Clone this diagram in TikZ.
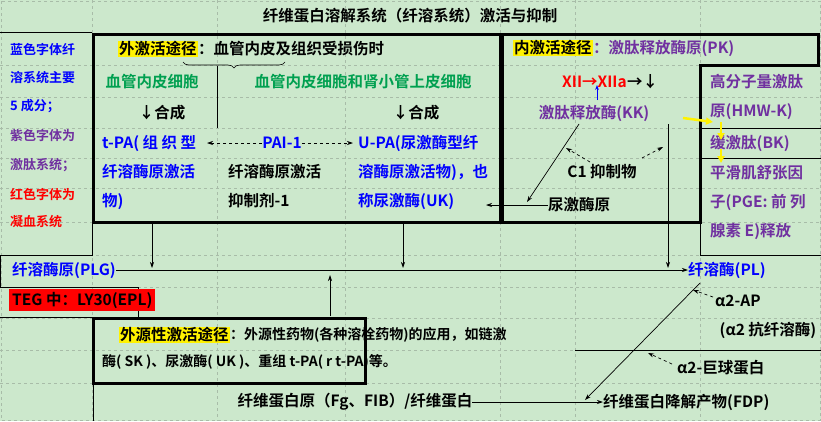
\documentclass[tikz,border=0pt]{standalone}
\usepackage{fontspec}
\setmainfont{Noto Sans CJK SC}[BoldFont={* Bold}]
\usetikzlibrary{arrows.meta,decorations.pathreplacing}
\definecolor{bg}{HTML}{CCE8CC}
\definecolor{grn}{HTML}{00A050}
\definecolor{blu}{HTML}{0000FF}
\definecolor{pur}{HTML}{7030A0}
\definecolor{grd}{HTML}{A8BCA8}
\begin{document}
\begin{tikzpicture}[x=1pt,y=-1pt,
 t/.style={font=\bfseries\fontsize{15.5}{17}\selectfont,inner sep=0pt},
 tl/.style={t,anchor=west},
 sm/.style={font=\bfseries\fontsize{13}{14}\selectfont,inner sep=0pt,anchor=west},
 thick box/.style={line width=3pt},
 thin/.style={line width=0.6pt},
 arr/.style={-{Stealth[length=6pt,width=4pt]},line width=0.7pt},
 darr/.style={arr,dashed},
 yarr/.style={-{Triangle[length=7pt,width=7pt]},line width=2.5pt,yellow}]
\fill[bg] (0,0) rectangle (821,421);
\useasboundingbox (0,0) rectangle (821,421);
% grid
\foreach \y in {65,97,128,158,188,222,255,287,318,350,383} \draw[grd,dashed,thin] (0,\y)--(821,\y);
\foreach \x in {92,217,345,500,575,700} \draw[grd,dashed,thin] (\x,0)--(\x,421);
\draw[grd,dashed,thin] (1,1) rectangle (820,420);
% title
\node[t] (title) at (410,16) {纤维蛋白溶解系统（纤溶系统）激活与抑制};
\draw[thin] (0,32)--(92,32);
% left column
\node[sm,blu] (l1) at (10,50) {蓝色字体纤};
\node[sm,blu] (l2) at (10,78) {溶系统主要};
\node[sm,blu] (l3) at (10,106) {5 成分；};
\node[sm,pur] (l4) at (10,136) {紫色字体为};
\node[sm,pur] (l5) at (10,165) {激肽系统；};
\node[sm,red] (l6) at (10,194) {红色字体为};
\node[sm,red] (l7) at (10,222) {凝血系统};
% outer activation box
\draw[thick box] (93,34) rectangle (500,222);
\node[tl,fill=yellow,inner sep=1pt] (ext) at (118,49) {外激活途径};
\node[tl] (extb) at (ext.east) {：血管内皮及组织受损伤时};
\draw[thin,decorate,decoration={brace,mirror,amplitude=6pt}] (183,62)--(285,62);
\draw[thin] (217,66)--(217,128);
\node[t,grn] (ec1) at (152,82) {血管内皮细胞};
\node[t,grn] (ec2) at (363,82) {血管内皮细胞和肾小管上皮细胞};
\node[t] (s1) at (162,113) {↓合成};
\node[t] (s2) at (416,113) {↓合成};
\node[tl,blu] (tpa1) at (102,143) {t-PA( 组 织 型};
\node[tl,blu] (tpa2) at (102,172) {纤溶酶原激活};
\node[tl,blu] (tpa3) at (102,201) {物)};
\node[t,blu] (pai) at (282,143) {PAI-1};
\node[tl] (pai2) at (228,172) {纤溶酶原激活};
\node[tl] (pai3) at (228,201) {抑制剂-1};
\node[tl,blu] (upa1) at (358,143) {U-PA(尿激酶型纤};
\node[tl,blu] (upa2) at (358,172) {溶酶原激活物)，也};
\node[tl,blu] (upa3) at (358,201) {称尿激酶(UK)};
\draw[darr] (pai.west)--(207,143);
\draw[darr] (pai.east)--(353,143);
% inner activation box
\draw[thick box] (502,222)--(502,34)--(818,34)--(818,65)--(700,65)--(700,222)--cycle;
\node[tl,fill=yellow,inner sep=1pt] (int) at (513,48) {内激活途径};
\node[tl,pur] (intb) at (int.east) {：激肽释放酶原(PK)};
\node[tl,red] (xii) at (562,82) {XII→XIIa};
\node[tl] (xiib) at (xii.east) {→↓};
\node[t,pur] (kk) at (594,113) {激肽释放酶(KK)};
\draw[-{Stealth[length=5pt]},blu,line width=0.8pt] (597,100)--(597,85);
\node[t] (c1) at (602,172) {C1 抑制物};
\node[tl] (uk0) at (548,205) {尿激酶原};
\draw[arr] (579,124)--(527,202);
\draw[darr] (590,162)--(566,148);
\draw[darr] (642,158)--(663,147);
\draw[arr] (uk0.west)--(486,205);
% right column
\draw[thin] (700,128)--(821,128) (700,158)--(821,158) (700,222)--(700,255)--(713,255);
\node[tl,pur] (hm1) at (710,82) {高分子量激肽};
\node[tl,pur] (hm2) at (710,112) {原(HMW-K)};
\node[tl,pur] (bk) at (710,143) {缓激肽(BK)};
\node[tl,pur] (pg1) at (710,173) {平滑肌舒张因};
\node[tl,pur] (pg2) at (710,202) {子(PGE: 前 列};
\node[tl,pur] (pg3) at (710,231) {腺素 E)释放};
\draw[yarr] (683,118)--(713,122);
\draw[yarr] (721,122)--(721,140);
\draw[yarr] (721,149)--(721,163);
% PLG row
\draw[thin] (0,255)--(92,255)--(92,222) (0,255)--(0,287);
\draw[thin] (713,255)--(821,255);
\node[tl,blu] (plg) at (12,270) {纤溶酶原(PLG)};
\node[tl,blu] (pl) at (688,270) {纤溶酶(PL)};
\draw[arr] (plg.east)--(pl.west);
\coordinate (a1) at (152,224);
\coordinate (a2) at (403,224);
\coordinate (a3) at (668,124);
\draw[arr] (a1)--(152,268);
\draw[arr] (a2)--(403,268);
\draw[arr] (a3)--(668,268);
\draw[thin] (0,287)--(138,287)--(138,318);
\node[tl,fill=red,inner sep=3pt] (teg) at (9,300) {TEG 中：LY30(EPL)};
\draw[thin] (0,317)--(93,317);
% exogenous box
\draw[thick box] (93,318) rectangle (365,383);
\draw[arr] (330,316)--(330,275);
\node[tl,fill=yellow,inner sep=1pt] (exo) at (119,335) {外源性激活途径};
\node[tl,font=\bfseries\fontsize{14}{15}\selectfont] (exob) at (exo.east) {：外源性药物(各种溶栓药物)的应用，如链激};
\node[tl,font=\bfseries\fontsize{14}{15}\selectfont] (exo2) at (102,362) {酶( SK )、尿激酶( UK )、重组 t-PA( r t-PA)等。};
% bottom
\draw[thin] (93,383)--(93,421) (575,350)--(821,350);
\node[t] (fg) at (355,402) {纤维蛋白原（Fg、FIB）/纤维蛋白};
\node[tl] (fdp) at (603,402) {纤维蛋白降解产物(FDP)};
\draw[arr] (fg.east)--(fdp.west);
\draw[arr] (700,283)--(585,400);
\node[tl] (a2ap) at (715,301) {α2-AP};
\node[t] (a2p) at (768,330) {(α2 抗纤溶酶)};
\node[tl] (a2m) at (677,368) {α2-巨球蛋白};
\draw[darr] (713,297)--(693,290);
\draw[darr] (672,364)--(648,353);
\end{tikzpicture}
\end{document}
